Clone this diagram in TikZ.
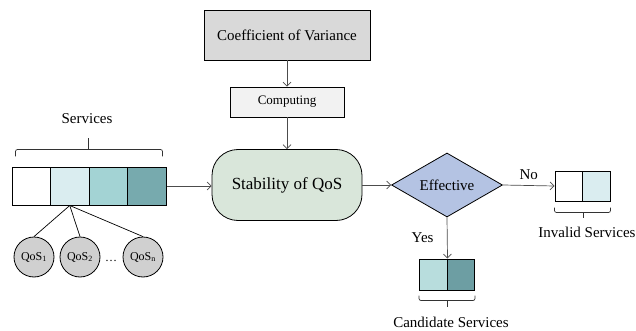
\documentclass[tikz,border=0pt]{standalone}
\usepackage{fontspec}
\setmainfont{Liberation Serif}
\usetikzlibrary{shapes,arrows,arrows.meta}

\definecolor{coefgray}{HTML}{D9D9D9}
\definecolor{compgray}{HTML}{F2F2F2}
\definecolor{stabgreen}{HTML}{D9E6DA}
\definecolor{effblue}{HTML}{B4C3E3}
\definecolor{qosgray}{HTML}{D0D0D0}
\definecolor{tealA}{HTML}{DAEDF0}
\definecolor{tealB}{HTML}{A3D3D4}
\definecolor{tealC}{HTML}{77AAAE}
\definecolor{tealD}{HTML}{B8DDDD}
\definecolor{tealE}{HTML}{6D9EA3}

\begin{document}
\begin{tikzpicture}[x=1pt,y=-1pt,
  every node/.style={font=\fontsize{15}{18}\selectfont},
  box/.style={draw,rectangle,line width=0.8pt},
  cell/.style={draw,rectangle,line width=1pt,inner sep=0pt},
  qos/.style={draw,circle,fill=qosgray,line width=0.8pt,minimum size=40pt,inner sep=0pt,
    font=\fontsize{12}{14}\selectfont},
  flow/.style={-{Straight Barb[length=4pt,width=8pt]},draw=black!70,line width=0.7pt},
  bracket/.style={draw=black!80,line width=0.7pt,rounded corners=2pt}]
\useasboundingbox (0,0) rectangle (636,331);

\node[box,fill=coefgray,minimum width=166pt,minimum height=50pt] (coef) at (287,35) {Coefficient of Variance};
\node[box,fill=compgray,minimum width=114pt,minimum height=30pt,
  font=\fontsize{13}{15}\selectfont] (comp) at (287,102) {Computing};
\node[box,fill=stabgreen,rounded corners=26pt,minimum width=150pt,minimum height=71pt,
  font=\fontsize{17}{20}\selectfont] (stab) at (287,185) {Stability of QoS};
\node[draw,diamond,fill=effblue,line width=0.8pt,inner sep=1pt,aspect=1.7,
  minimum width=111pt,minimum height=64pt] (eff) at (447,185) {Effective};

% services
\node[cell,fill=white,minimum width=38.5pt,minimum height=38pt] (s1) at (31.25,186) {};
\node[cell,fill=tealA,minimum width=38.5pt,minimum height=38pt] (s2) at (69.75,186) {};
\node[cell,fill=tealB,minimum width=38.5pt,minimum height=38pt] (s3) at (108.25,186) {};
\node[cell,fill=tealC,minimum width=38.5pt,minimum height=38pt] (s4) at (146.75,186) {};
\draw[bracket] ([xshift=4pt,yshift=10pt]s1.north west) |- ([xshift=-1pt,yshift=17pt]s2.north east)
  -| ([xshift=-4pt,yshift=10pt]s4.north east);
\draw[bracket] ([xshift=-1pt,yshift=17pt]s2.north east) -- ++(0,-11);
\node (srv) at (87,119) {Services};

\node[qos] (q1) at (34,257) {QoS\textsubscript{1}};
\node[qos] (q2) at (80,257) {QoS\textsubscript{2}};
\node[qos] (q3) at (143,257) {QoS\textsubscript{n}};
\node[font=\fontsize{12}{14}\selectfont] (dots) at (111,261) {\dots};
\draw[line width=0.7pt] (s2.south) -- (q1.north);
\draw[line width=0.7pt] (s2.south) -- (q2.north);
\draw[line width=0.7pt] (s2.south) -- (q3.north);

% invalid services
\node[cell,fill=white,minimum width=27.5pt,minimum height=30pt] (i1) at (568.75,186) {};
\node[cell,fill=tealA,minimum width=27.5pt,minimum height=30pt] (i2) at (596.25,186) {};
\draw[bracket] ([yshift=-6pt]i1.south west) |- ([yshift=-11pt]i1.south east) -| ([yshift=-6pt]i2.south east);
\draw[bracket] ([yshift=-11pt]i1.south east) -- ++(0,5);
\node (inv) at (587,232) {Invalid Services};

% candidate services
\node[cell,fill=tealD,minimum width=27.5pt,minimum height=31pt] (c1) at (433.25,274.5) {};
\node[cell,fill=tealE,minimum width=27.5pt,minimum height=31pt] (c2) at (460.75,274.5) {};
\draw[bracket] ([yshift=-5pt]c1.south west) |- ([yshift=-10pt]c1.south east) -| ([yshift=-5pt]c2.south east);
\draw[bracket] ([yshift=-10pt]c1.south east) -- ++(0,6);
\node (cand) at (451,322) {Candidate Services};

\draw[flow] (coef) -- (comp);
\draw[flow] (comp) -- (stab);
\draw[flow] (s4.east) -- (stab.west |- s4.east);
\draw[flow] (stab) -- (eff);
\draw[flow] (eff.east) -- (i1.west) node[midway,above=2pt] {No};
\draw[flow] (eff.south) -- (c1.north east) node[midway,left=10pt] {Yes};
\end{tikzpicture}
\end{document}
